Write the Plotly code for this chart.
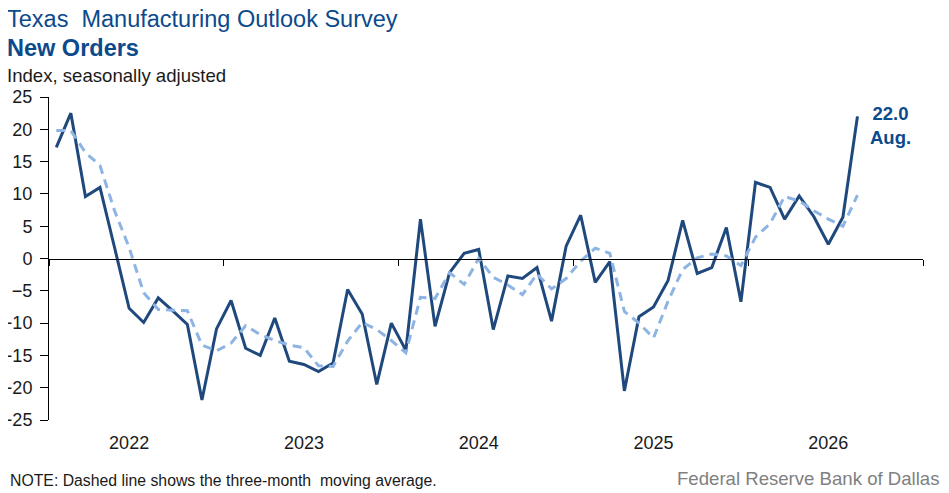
import plotly.graph_objects as go

# monthly index, Jan 2022 .. Aug 2026
months = list(range(56))
new_orders = [17.2, 22.5, 9.6, 11.0, 1.7, -7.7, -9.9, -6.1, -8.1, -10.2, -21.9, -10.9,
              -6.5, -13.9, -15.0, -9.2, -15.9, -16.4, -17.5, -16.2, -4.8, -8.6, -19.5, -10.0,
              -14.2, 6.1, -10.5, -2.2, 0.8, 1.4, -11.0, -2.7, -3.1, -1.4, -9.7, 1.9,
              6.7, -3.7, -0.5, -20.5, -9.0, -7.5, -3.4, 5.9, -2.3, -1.4, 4.8, -6.7,
              11.8, 11.0, 6.1, 9.7, 6.5, 2.2, 6.4, 22.0]
moving_avg = [19.8, 19.8, 16.4, 14.4, 7.4, 1.7, -5.3, -7.9, -8.0, -8.1, -13.4, -14.3,
              -13.1, -10.4, -11.8, -12.7, -13.4, -13.8, -16.6, -16.7, -12.8, -9.9, -11.0, -12.7,
              -14.6, -6.0, -6.2, -2.2, -4.0, 0.0, -2.9, -4.1, -5.6, -2.4, -4.7, -3.1,
              -0.4, 1.6, 0.8, -8.2, -10.0, -12.3, -6.6, -1.7, 0.1, 0.7, 0.4, -1.1,
              3.3, 5.4, 9.6, 8.9, 7.4, 6.1, 5.0, 9.8]

year_labels = ["2022", "2023", "2024", "2025", "2026"]
year_label_pos = [5, 17, 29, 41, 53]
year_bounds = [-0.5, 11.5, 23.5, 35.5, 47.5, 59.5]

W, H = 949, 493
OFF = 8  # page body margin
L, R, T, B = 49 - OFF, 923 - OFF, 97 - OFF, 420 - OFF

def px(x):
    return (x - OFF - L) / (R - L)

def py(y):
    return (B - (y - OFF)) / (B - T)

blue_txt = "#0b4a8b"
font = "Liberation Sans, Arial, sans-serif"

fig = go.Figure()
fig.add_trace(go.Scatter(x=months, y=moving_avg, mode="lines", xaxis="x2",
                         line=dict(color="#8db4e2", width=3, dash="9px,6px"),
                         hoverinfo="skip"))
fig.add_trace(go.Scatter(x=months, y=new_orders, mode="lines",
                         line=dict(color="#1f497d", width=3)))

fig.update_layout(
    width=W, height=H,
    margin=dict(l=L, r=W - R, t=T, b=H - B, autoexpand=False),
    paper_bgcolor="white", plot_bgcolor="white",
    showlegend=False,
    font=dict(family=font, color="#1a1a1a", size=18),
    xaxis=dict(range=[-0.5, 59.5], anchor="free", position=0.5, automargin=False,
               showline=True, linecolor="#000", linewidth=1,
               tickmode="array", tickvals=year_bounds, ticks="outside",
               ticklen=6, tickcolor="#000", showticklabels=False,
               showgrid=False, zeroline=False),
    xaxis2=dict(range=[-0.5, 59.5], overlaying="x", anchor="y", side="bottom",
                automargin=False,
                tickmode="array", tickvals=year_label_pos, ticktext=year_labels,
                ticks="", showline=False, showgrid=False, zeroline=False,
                ticklabelstandoff=10, tickfont=dict(size=18, color="#1a1a1a")),
    yaxis=dict(range=[-25, 25], dtick=5, tick0=0, showline=True, linecolor="#000",
               linewidth=1, ticks="outside", ticklen=8, tickcolor="#000",
               automargin=False,
               ticklabelstandoff=4, showgrid=False, zeroline=False,
               tickfont=dict(size=18, color="#1a1a1a")),
)

def note(text, x, y, size, color, xanchor="left", bold=False):
    fig.add_annotation(text=f"<b>{text}</b>" if bold else text,
                       xref="paper", yref="paper", x=px(x), y=py(y),
                       xanchor=xanchor, yanchor="middle", showarrow=False,
                       font=dict(family=font, size=size, color=color))

note("Texas  Manufacturing Outlook Survey", 5, 19, 23.5, blue_txt)
note("New Orders", 5, 48, 23.5, blue_txt, bold=True)
note("Index, seasonally adjusted", 5, 75, 18.6, "#1a1a1a")
note("NOTE: Dashed line shows the three-month  moving average.", 8, 480, 15.8, "#1a1a1a")
note("Federal Reserve Bank of Dallas", 942, 478, 18.6, "#808080", xanchor="right")
fig.add_annotation(text="<b>22.0<br>Aug.</b>", xref="paper", yref="paper",
                   x=px(890), y=py(125), xanchor="center", yanchor="middle",
                   showarrow=False, align="center",
                   font=dict(family=font, size=18.5, color=blue_txt))

fig.write_html("out.html")
